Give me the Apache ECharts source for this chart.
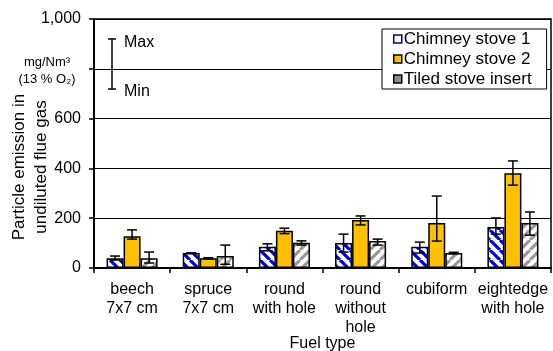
<!DOCTYPE html>
<html>
<head>
<meta charset="utf-8">
<script src="https://cdn.jsdelivr.net/npm/echarts@6/dist/echarts.min.js"></script>
<style>
html,body{margin:0;padding:0;background:#fff;}
#chart{width:553px;height:351px;}
</style>
</head>
<body>
<div id="chart"></div>
<script>
// Fuel types on the category axis
const categories = ['beech\n7x7 cm', 'spruce\n7x7 cm', 'round\nwith hole', 'round\nwithout\nhole', 'cubiform', 'eightedge\nwith hole'];
const seriesNames = ['Chimney stove 1', 'Chimney stove 2', 'Tiled stove insert'];

// Mean particle emission, mg/Nm³ (13 % O₂)
const stove1 = [39, 60, 85, 100, 85, 165];
const stove2 = [128, 39, 150, 193, 181, 381];
const tiled = [39, 48, 101, 108, 60, 181];

// Min / max range of the measurements
const stove1Min = [32, 60, 69, 64, 60, 136];
const stove1Max = [48, 60, 97, 136, 104, 201];
const stove2Min = [116, 37, 138, 173, 108, 333];
const stove2Max = [153, 41, 160, 209, 289, 430];
const tiledMin = [20, 15, 92, 92, 57, 132];
const tiledMax = [64, 92, 109, 116, 63, 225];

const yTicks = [0, 200, 400, 600, 800, 1000];

function stripes(fg, dir) {
  const s = 10;
  const c = document.createElement('canvas');
  c.width = s; c.height = s;
  const g = c.getContext('2d');
  g.fillStyle = '#fff';
  g.fillRect(0, 0, s, s);
  g.strokeStyle = fg;
  g.lineWidth = 3.2;
  g.beginPath();
  if (dir === 'back') {
    for (let k = -1; k <= 1; k++) { g.moveTo(k * s, 0); g.lineTo(k * s + s, s); }
  } else {
    for (let k = -1; k <= 1; k++) { g.moveTo(k * s, s); g.lineTo(k * s + s, 0); }
  }
  g.stroke();
  return c;
}

const fills = [
  { image: stripes('#0000dd', 'back'), repeat: 'repeat' },
  '#ffc000',
  { image: stripes('#9a9a9a', 'fwd'), repeat: 'repeat' }
];
const legendFills = ['#fff', '#ffc000', '#8c8c8c'];
const legendBorders = ['#000080', '#000', '#000'];

const means = [stove1, stove2, tiled];
const ranges = [[stove1Min, stove1Max], [stove2Min, stove2Max], [tiledMin, tiledMax]];
const CAT_GAP = 0.33;

function errorSeries(idx) {
  const data = categories.map((c, i) => [i, ranges[idx][0][i], ranges[idx][1][i]]);
  return {
    type: 'custom',
    name: seriesNames[idx] + ' range',
    data: data,
    z: 5,
    silent: true,
    encode: { x: 0, y: [1, 2] },
    renderItem: function (params, api) {
      const band = api.size([1, 0])[0];
      const barW = band * (1 - CAT_GAP) / 3;
      const off = (idx - 1) * barW;
      const lo = api.coord([api.value(0), api.value(1)]);
      const hi = api.coord([api.value(0), api.value(2)]);
      const x = lo[0] + off;
      const cap = 5;
      const st = { stroke: '#000', lineWidth: 1.5 };
      return {
        type: 'group',
        children: [
          { type: 'line', shape: { x1: x, y1: lo[1], x2: x, y2: hi[1] }, style: st },
          { type: 'line', shape: { x1: x - cap, y1: lo[1], x2: x + cap, y2: lo[1] }, style: st },
          { type: 'line', shape: { x1: x - cap, y1: hi[1], x2: x + cap, y2: hi[1] }, style: st }
        ]
      };
    }
  };
}

const font = 'Liberation Sans, Arial, sans-serif';
const chart = echarts.init(document.getElementById('chart'));

const barSeries = means.map((vals, idx) => ({
  type: 'bar',
  name: seriesNames[idx],
  data: vals,
  barGap: '0%',
  barCategoryGap: (CAT_GAP * 100) + '%',
  itemStyle: { color: fills[idx], borderColor: '#000', borderWidth: 1.5 },
  emphasis: { disabled: true }
}));

chart.setOption({
  animation: false,
  textStyle: { fontFamily: font },
  grid: {
    left: 94, right: 2, top: 19, bottom: 83,
    outerBoundsMode: 'none', containLabel: false,
    show: true, borderColor: '#000', borderWidth: 1.5, backgroundColor: 'transparent'
  },
  legend: {
    orient: 'vertical',
    left: 382,
    top: 29,
    padding: [0, 15, 0, 11],
    itemGap: 0,
    itemWidth: 8,
    itemHeight: 8,
    icon: 'rect',
    backgroundColor: '#fff',
    borderColor: '#000',
    borderWidth: 1,
    textStyle: { fontFamily: font, fontSize: 17, lineHeight: 20, color: '#000', padding: [0, 0, 0, -3] },
    data: seriesNames.map((n, i) => ({
      name: n,
      itemStyle: { color: legendFills[i], borderColor: legendBorders[i], borderWidth: 1.5 }
    }))
  },
  xAxis: {
    type: 'category',
    data: categories,
    name: 'Fuel type',
    nameLocation: 'middle',
    nameGap: 68,
    nameMoveOverlap: false,
    nameTextStyle: { fontFamily: font, fontSize: 16, color: '#000' },
    axisLine: { lineStyle: { color: '#000', width: 2 } },
    axisTick: { show: true, length: 5, lineStyle: { color: '#000', width: 1.5 } },
    axisLabel: { fontFamily: font, fontSize: 16, color: '#000', lineHeight: 19, margin: 12, interval: 0 }
  },
  yAxis: {
    type: 'value',
    min: yTicks[0],
    max: yTicks[yTicks.length - 1],
    interval: 200,
    name: 'Particle emission in\nundiluted flue gas',
    nameLocation: 'middle',
    nameGap: 42,
    nameRotate: 90,
    nameMoveOverlap: false,
    nameTextStyle: { fontFamily: font, fontSize: 17, color: '#000', lineHeight: 22, padding: [0, 47, 0, 0] },
    axisLine: { show: true, lineStyle: { color: '#000', width: 2 } },
    axisTick: { show: true, length: 5, lineStyle: { color: '#000', width: 1.5 } },
    axisLabel: {
      fontFamily: font, fontSize: 16, color: '#000', margin: 13,
      formatter: v => (v === 800 ? '' : v.toLocaleString('en-US'))
    },
    splitLine: { show: true, lineStyle: { color: '#000', width: 1 } }
  },
  graphic: [
    { type: 'text', x: 47, y: 56, style: { text: 'mg/Nm³', font: '13px ' + font, fill: '#000', align: 'center' } },
    { type: 'text', x: 47, y: 73, style: { text: '(13 % O₂)', font: '13px ' + font, fill: '#000', align: 'center' } },
    { type: 'line', shape: { x1: 112, y1: 39, x2: 112, y2: 89 }, style: { stroke: '#000', lineWidth: 1.5 } },
    { type: 'line', shape: { x1: 108, y1: 39, x2: 116, y2: 39 }, style: { stroke: '#000', lineWidth: 1.5 } },
    { type: 'line', shape: { x1: 108, y1: 89, x2: 116, y2: 89 }, style: { stroke: '#000', lineWidth: 1.5 } },
    { type: 'text', x: 124, y: 35, style: { text: 'Max', font: '16px ' + font, fill: '#000' } },
    { type: 'text', x: 124, y: 84, style: { text: 'Min', font: '16px ' + font, fill: '#000' } }
  ],
  series: barSeries.concat([0, 1, 2].map(errorSeries))
});
</script>
</body>
</html>
